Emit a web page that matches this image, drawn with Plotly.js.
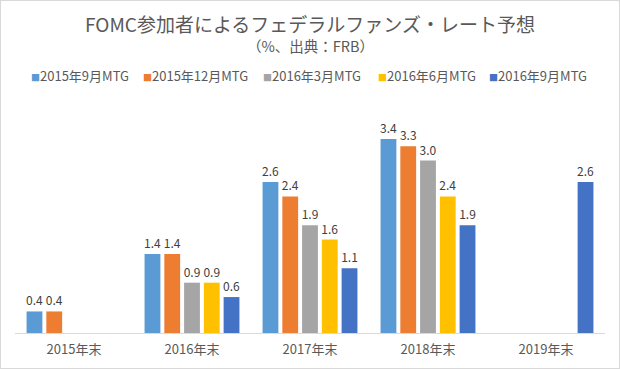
<!DOCTYPE html>
<html>
<head>
<meta charset="utf-8">
<script src="https://cdn.plot.ly/plotly-3.0.1.min.js"></script>
<style>
html,body{margin:0;padding:0;background:#fff;}
#chart{width:618px;height:367px;border:1px solid #d9d9d9;}
</style>
</head>
<body>
<div id="chart"></div>
<script>
const categories = ['2015年末','2016年末','2017年末','2018年末','2019年末'];
const seriesNames = ['2015年9月MTG','2015年12月MTG','2016年3月MTG','2016年6月MTG','2016年9月MTG'];
const sep2015 = [0.375, 1.375, 2.625, 3.375, null];
const dec2015 = [0.375, 1.375, 2.375, 3.25, null];
const mar2016 = [null, 0.875, 1.875, 3.0, null];
const jun2016 = [null, 0.875, 1.625, 2.375, null];
const sep2016 = [null, 0.625, 1.125, 1.875, 2.625];
const seriesValues = [sep2015, dec2015, mar2016, jun2016, sep2016];
const colors = ['#5B9BD5','#ED7D31','#A5A5A5','#FFC000','#4472C4'];
const legendEntryWidths = [67, 75, 70, 66, 100];

const FONT = '"Noto Sans CJK JP", "Noto Sans", sans-serif';

const barTraces = seriesValues.map((vals, i) => ({
  type: 'bar',
  name: seriesNames[i],
  legendgroup: 's' + i,
  showlegend: false,
  x: categories,
  y: vals,
  marker: {color: colors[i]},
  texttemplate: '%{y:.1f}',
  textposition: 'outside',
  textangle: 0,
  constraintext: 'none',
  cliponaxis: false,
  textfont: {family: FONT, size: 12, color: '#404040'},
  hoverinfo: 'none'
}));

// legend entries: small coloured square glyph directly before the name (Excel style)
const legendTraces = seriesNames.map((nm, i) => ({
  type: 'scatter',
  mode: 'none',
  name: '<span style="font-size:9px;fill:' + colors[i] + '">■</span>' + nm,
  legendgroup: 's' + i,
  legendwidth: legendEntryWidths[i],
  x: [categories[0]],
  y: [null],
  hoverinfo: 'none'
}));

const layout = {
  width: 618, height: 367,
  margin: {l: 14, r: 14, t: 102, b: 35, autoexpand: false},
  paper_bgcolor: '#fff', plot_bgcolor: '#fff',
  font: {family: FONT, color: '#595959'},
  title: {
    text: 'FOMC参加者によるフェデラルファンズ・レート予想',
    font: {family: FONT, size: 19, color: '#595959'},
    x: 0.5, xanchor: 'center', xref: 'container',
    y: 0.934, yanchor: 'middle', yref: 'container'
  },
  annotations: [{
    text: '（%、出典：FRB）',
    xref: 'paper', x: 0.5, xanchor: 'center',
    yref: 'paper', y: 1.252, yanchor: 'middle',
    showarrow: false,
    font: {family: FONT, size: 14.5, color: '#595959'}
  }],
  barmode: 'group',
  bargap: 0.1625,
  bargroupgap: 0.2,
  showlegend: true,
  legend: {
    orientation: 'h',
    xref: 'paper', x: -0.0407, xanchor: 'left',
    yref: 'paper', y: 1.117, yanchor: 'middle',
    font: {family: FONT, size: 13, color: '#595959'},
    entrywidthmode: 'pixels',
    itemwidth: 30,
    traceorder: 'normal'
  },
  xaxis: {
    type: 'category',
    showgrid: false, zeroline: false,
    showline: true, linecolor: '#d9d9d9', linewidth: 1,
    ticks: '',
    tickangle: 0,
    ticklabelstandoff: 4,
    tickfont: {family: FONT, size: 13, color: '#595959'},
    fixedrange: true
  },
  yaxis: {
    range: [0, 4],
    visible: false,
    showgrid: false, zeroline: false,
    fixedrange: true
  }
};

Plotly.newPlot('chart', barTraces.concat(legendTraces), layout, {displayModeBar: false, staticPlot: true});
</script>
</body>
</html>
